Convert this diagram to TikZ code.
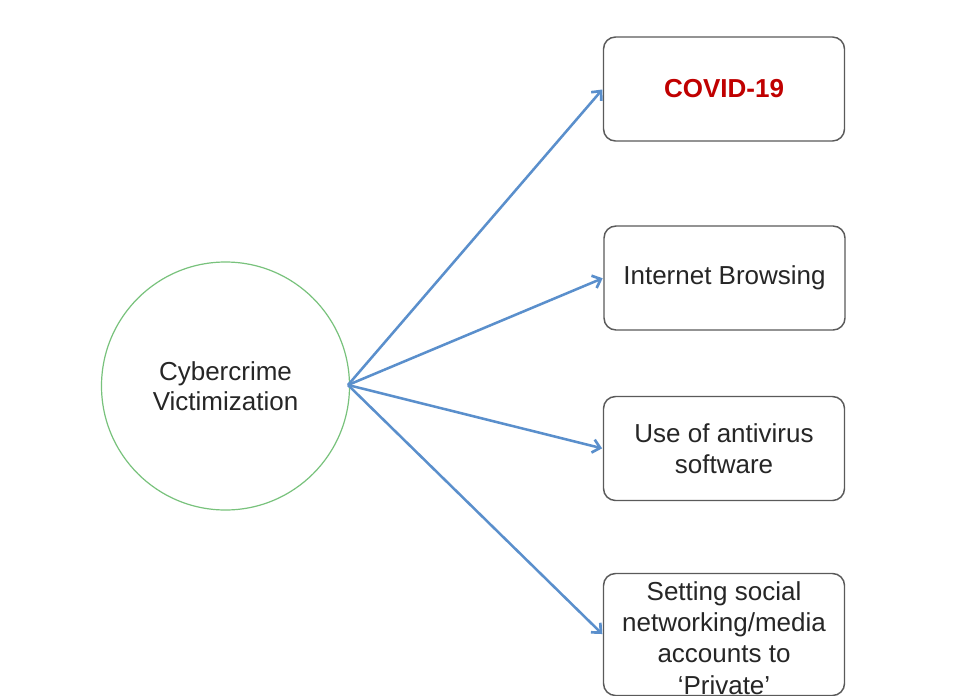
\documentclass[tikz,border=0pt]{standalone}
\usepackage{fontspec}
\setmainfont{Liberation Sans}
\usetikzlibrary{arrows.meta}
\definecolor{arrowblue}{HTML}{5A8FCC}
\definecolor{circgreen}{HTML}{78C27C}
\definecolor{boxgray}{HTML}{5A5A5A}
\definecolor{covidred}{HTML}{C00000}
\tikzset{
  rbox/.style={draw=boxgray, line width=1.1pt, rounded corners=9pt, fill=white,
    minimum width=241*0.75pt, minimum height=104*0.75pt, align=center,
    inner sep=2pt, font=\fontsize{19.5}{23.2}\selectfont, text=black!85},
  conn/.style={draw=arrowblue, line width=1.9pt,
    -{Straight Barb[length=5.5pt,width=10pt,line width=2pt]}, shorten >=0.5pt},
}
\begin{document}
\begin{tikzpicture}[x=0.75pt,y=-0.75pt]
\useasboundingbox (0,0) rectangle (978,696);
\fill[white] (0,0) rectangle (978,696);
\node[circle, draw=circgreen, line width=0.9pt, minimum size=248*0.75pt,
  align=center, font=\fontsize{19.5}{22.5}\selectfont, text=black!85]
  (cv) at (225.5,386) {Cybercrime\\Victimization};
\coordinate (src) at (348,385);
\node[rbox, font=\fontsize{19.5}{23.2}\selectfont\bfseries, text=covidred] (b1) at (724,89) {COVID-19};
\node[rbox] (b2) at (724.5,278) {Internet Browsing};
\node[rbox] (b3) at (724,448.5) {Use of antivirus\\software};
\node[rbox, minimum height=122*0.75pt] (b4) at (724,634.5) {};
\node[align=center, inner sep=0pt, font=\fontsize{19.5}{23.4}\selectfont, text=black!85]
  (t4) at (724,638) {Setting social\\networking/media\\accounts to\\`Private'};
\draw[conn] (src) -- (b1.west);
\draw[conn] (src) -- (b2.west);
\draw[conn] (src) -- (b3.west);
\draw[conn] (src) -- (b4.west);
\end{tikzpicture}
\end{document}
